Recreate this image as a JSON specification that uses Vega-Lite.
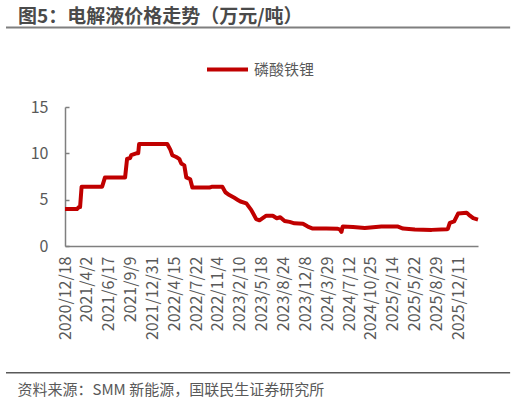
{
  "$schema": "https://vega.github.io/schema/vega-lite/v6.json",
  "width": 413,
  "height": 139,
  "autosize": {"type": "none"},
  "padding": {"left": 65, "top": 107, "right": 38, "bottom": 157},
  "config": {
    "font": "Noto Sans CJK SC",
    "view": {"stroke": null},
    "axis": {"labelOverlap": false}
  },
  "title": {
    "text": "图5：电解液价格走势（万元/吨）",
    "anchor": "start",
    "frame": "group",
    "dx": -47,
    "dy": 5,
    "offset": 4,
    "fontSize": 19,
    "fontWeight": "bold",
    "color": "#4a4a4a"
  },
  "resolve": {"axis": {"x": "independent", "y": "independent"}},
  "layer": [
    {
      "data": {
        "values": [
          {"t": 0, "v": 4.0, "s": "磷酸铁锂"},
          {"t": 0.55, "v": 4.0, "s": "磷酸铁锂"},
          {"t": 0.64, "v": 4.2, "s": "磷酸铁锂"},
          {"t": 0.69, "v": 4.2, "s": "磷酸铁锂"},
          {"t": 0.76, "v": 6.4, "s": "磷酸铁锂"},
          {"t": 1.70, "v": 6.4, "s": "磷酸铁锂"},
          {"t": 1.83, "v": 7.4, "s": "磷酸铁锂"},
          {"t": 2.75, "v": 7.4, "s": "磷酸铁锂"},
          {"t": 2.84, "v": 9.4, "s": "磷酸铁锂"},
          {"t": 2.98, "v": 9.5, "s": "磷酸铁锂"},
          {"t": 3.03, "v": 9.8, "s": "磷酸铁锂"},
          {"t": 3.26, "v": 10.0, "s": "磷酸铁锂"},
          {"t": 3.35, "v": 10.0, "s": "磷酸铁锂"},
          {"t": 3.39, "v": 11.0, "s": "磷酸铁锂"},
          {"t": 4.68, "v": 11.0, "s": "磷酸铁锂"},
          {"t": 4.82, "v": 10.4, "s": "磷酸铁锂"},
          {"t": 4.91, "v": 9.8, "s": "磷酸铁锂"},
          {"t": 5.09, "v": 9.6, "s": "磷酸铁锂"},
          {"t": 5.23, "v": 9.4, "s": "磷酸铁锂"},
          {"t": 5.32, "v": 8.9, "s": "磷酸铁锂"},
          {"t": 5.46, "v": 8.7, "s": "磷酸铁锂"},
          {"t": 5.55, "v": 7.4, "s": "磷酸铁锂"},
          {"t": 5.73, "v": 7.2, "s": "磷酸铁锂"},
          {"t": 5.83, "v": 6.3, "s": "磷酸铁锂"},
          {"t": 6.61, "v": 6.3, "s": "磷酸铁锂"},
          {"t": 6.74, "v": 6.4, "s": "磷酸铁锂"},
          {"t": 7.20, "v": 6.4, "s": "磷酸铁锂"},
          {"t": 7.34, "v": 5.8, "s": "磷酸铁锂"},
          {"t": 7.52, "v": 5.5, "s": "磷酸铁锂"},
          {"t": 7.75, "v": 5.2, "s": "磷酸铁锂"},
          {"t": 7.89, "v": 5.0, "s": "磷酸铁锂"},
          {"t": 8.03, "v": 4.8, "s": "磷酸铁锂"},
          {"t": 8.30, "v": 4.6, "s": "磷酸铁锂"},
          {"t": 8.52, "v": 3.9, "s": "磷酸铁锂"},
          {"t": 8.75, "v": 2.9, "s": "磷酸铁锂"},
          {"t": 8.90, "v": 2.77, "s": "磷酸铁锂"},
          {"t": 9.21, "v": 3.27, "s": "磷酸铁锂"},
          {"t": 9.51, "v": 3.27, "s": "磷酸铁锂"},
          {"t": 9.69, "v": 3.0, "s": "磷酸铁锂"},
          {"t": 9.85, "v": 3.1, "s": "磷酸铁锂"},
          {"t": 10.05, "v": 2.7, "s": "磷酸铁锂"},
          {"t": 10.28, "v": 2.6, "s": "磷酸铁锂"},
          {"t": 10.50, "v": 2.45, "s": "磷酸铁锂"},
          {"t": 10.89, "v": 2.4, "s": "磷酸铁锂"},
          {"t": 11.11, "v": 2.1, "s": "磷酸铁锂"},
          {"t": 11.34, "v": 1.88, "s": "磷酸铁锂"},
          {"t": 11.96, "v": 1.88, "s": "磷酸铁锂"},
          {"t": 12.49, "v": 1.85, "s": "磷酸铁锂"},
          {"t": 12.57, "v": 1.8, "s": "磷酸铁锂"},
          {"t": 12.65, "v": 1.52, "s": "磷酸铁锂"},
          {"t": 12.71, "v": 2.1, "s": "磷酸铁锂"},
          {"t": 13.18, "v": 2.05, "s": "磷酸铁锂"},
          {"t": 13.72, "v": 1.95, "s": "磷酸铁锂"},
          {"t": 14.48, "v": 2.1, "s": "磷酸铁锂"},
          {"t": 15.24, "v": 2.1, "s": "磷酸铁锂"},
          {"t": 15.47, "v": 1.88, "s": "磷酸铁锂"},
          {"t": 16.01, "v": 1.77, "s": "磷酸铁锂"},
          {"t": 16.78, "v": 1.74, "s": "磷酸铁锂"},
          {"t": 17.46, "v": 1.8, "s": "磷酸铁锂"},
          {"t": 17.52, "v": 1.85, "s": "磷酸铁锂"},
          {"t": 17.61, "v": 2.5, "s": "磷酸铁锂"},
          {"t": 17.81, "v": 2.65, "s": "磷酸铁锂"},
          {"t": 17.99, "v": 3.5, "s": "磷酸铁锂"},
          {"t": 18.38, "v": 3.6, "s": "磷酸铁锂"},
          {"t": 18.53, "v": 3.27, "s": "磷酸铁锂"},
          {"t": 18.68, "v": 3.0, "s": "磷酸铁锂"},
          {"t": 18.90, "v": 2.85, "s": "磷酸铁锂"}
        ]
      },
      "mark": {"type": "line", "strokeWidth": 4, "strokeJoin": "round"},
      "encoding": {
        "x": {
          "field": "t",
          "type": "quantitative",
          "scale": {"domain": [0, 18.9], "nice": false, "zero": false},
          "axis": {
            "title": "资料来源：SMM 新能源，国联民生证券研究所",
            "titleX": -48,
            "titleY": 143,
            "titleAnchor": "start",
            "titleAlign": "left",
            "titleBaseline": "middle",
            "titleFontSize": 15,
            "titleFontWeight": "normal",
            "titleColor": "#595959",
            "grid": false,
            "ticks": false,
            "values": [0, 1, 2, 3, 4, 5, 6, 7, 8, 9, 10, 11, 12, 13, 14, 15, 16, 17, 18],
            "labelExpr": "['2020/12/18','2021/4/2','2021/6/17','2021/9/9','2021/12/31','2022/4/15','2022/7/22','2022/11/4','2023/2/10','2023/5/18','2023/8/24','2023/12/8','2024/3/29','2024/7/12','2024/10/25','2025/2/14','2025/5/22','2025/8/29','2025/12/11'][datum.value]",
            "labelAngle": 270,
            "labelAlign": "right",
            "labelBaseline": "middle",
            "labelPadding": 10,
            "labelFontSize": 16,
            "labelColor": "#595959",
            "labelOverlap": false,
            "labelFlush": false,
            "domainColor": "#7f7f7f",
            "domainWidth": 1.5
          }
        },
        "y": {
          "field": "v",
          "type": "quantitative",
          "scale": {"domain": [0, 15], "nice": false},
          "axis": {
            "title": null,
            "grid": false,
            "values": [0, 5, 10, 15],
            "tickSize": -4,
            "tickColor": "#7f7f7f",
            "tickWidth": 1.5,
            "labelPadding": 21,
            "labelFontSize": 16,
            "labelColor": "#595959",
            "labelFlush": false,
            "domainColor": "#7f7f7f",
            "domainWidth": 1.5
          }
        },
        "color": {
          "field": "s",
          "type": "nominal",
          "scale": {"range": ["#C00000"]},
          "legend": {
            "title": null,
            "orient": "none",
            "legendX": 140,
            "legendY": -60,
            "symbolType": "stroke",
            "symbolSize": 1681,
            "symbolStrokeWidth": 4,
            "labelFontSize": 15,
            "labelColor": "#595959",
            "labelOffset": 4
          }
        }
      }
    },
    {
      "data": {"values": [{"line": "title"}]},
      "mark": {"type": "rule", "color": "#7f7f7f", "strokeWidth": 2, "clip": false},
      "encoding": {
        "x": {"datum": -2.7, "type": "quantitative", "axis": null},
        "x2": {"datum": 20.37},
        "y": {"datum": 23.58, "type": "quantitative", "axis": null}
      }
    },
    {
      "data": {"values": [{"line": "source"}]},
      "mark": {"type": "rule", "color": "#595959", "strokeWidth": 1.5, "clip": false},
      "encoding": {
        "x": {"datum": -2.7, "type": "quantitative", "axis": null},
        "x2": {"datum": 20.37},
        "y": {"datum": -13.68, "type": "quantitative", "axis": null}
      }
    }
  ]
}
